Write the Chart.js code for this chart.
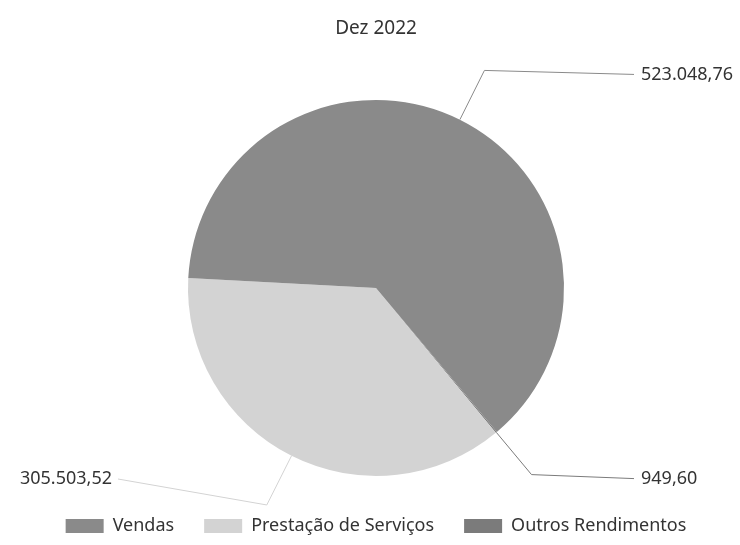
<!DOCTYPE html>
<html lang="pt">
<head>
    <meta charset="UTF-8">
    <title>Dez 2022</title>
    <script src="https://cdn.jsdelivr.net/npm/chart.js"></script>
    <style>
      body { margin: 0; background: #fff; }
      .grafico { width: 740px; height: 545px; }
    </style>
</head>
<body>

  <div class="grafico">
    <canvas id="canvas_receita"></canvas>
  </div>

<script>
    // dados
    var titulo = 'Dez 2022';
    var lista_categorias = ['Vendas', 'Prestação de Serviços', 'Outros Rendimentos'];
    var lista_valores = [523048.76, 305503.52, 949.60];
    var lista_rotulos = ['523.048,76', '305.503,52', '949,60'];
    var lista_cores = ['#8a8a8a', '#d3d3d3', '#7b7b7b'];

    // a pizza original corre no sentido anti-horario, entao invertemos a ordem
    var labels_graf = lista_categorias.slice().reverse();
    var valores_graf = lista_valores.slice().reverse();
    var rotulos_graf = lista_rotulos.slice().reverse();
    var cores_graf = lista_cores.slice().reverse();

    var fonte = "'Noto Sans', 'Open Sans', sans-serif";

    // rotulos com linha de chamada
    var rotulosPlugin = {
      id: 'rotulos',
      afterDatasetsDraw: function (chart) {
        var ctx = chart.ctx;
        var meta = chart.getDatasetMeta(0);
        var limite = chart.legend.top - 8;
        ctx.save();
        ctx.font = '18px ' + fonte;
        ctx.textBaseline = 'middle';
        for (var i = 0; i < meta.data.length; i++) {
          var arco = meta.data[i];
          var p = arco.getProps(['x', 'y', 'startAngle', 'endAngle', 'outerRadius'], true);
          var meio = (p.startAngle + p.endAngle) / 2;
          var cos = Math.cos(meio), sin = Math.sin(meio);
          var x0 = p.x + cos * p.outerRadius;
          var y0 = p.y + sin * p.outerRadius;
          var x1 = p.x + cos * (p.outerRadius + 55);
          var y1 = p.y + sin * (p.outerRadius + 55);
          var direita = cos >= 0;
          var x2 = direita ? 634 : 118;
          var yTexto = Math.min(y1 + 4, limite);

          ctx.strokeStyle = cores_graf[i];
          ctx.lineWidth = 1;
          ctx.beginPath();
          ctx.moveTo(x0, y0);
          ctx.lineTo(x1, y1);
          ctx.lineTo(x2, yTexto);
          ctx.stroke();

          ctx.fillStyle = '#333';
          ctx.textAlign = direita ? 'left' : 'right';
          ctx.fillText(rotulos_graf[i], direita ? x2 + 7 : x2 - 6, yTexto);
        }
        ctx.restore();
      }
    };

    var grafico = new Chart(document.getElementById('canvas_receita'), {
      type: 'pie',
      data: {
        labels: labels_graf,
        datasets: [{
          data: valores_graf,
          backgroundColor: cores_graf,
          borderWidth: 0,
          radius: 188
        }]
      },
      options: {
        responsive: true,
        maintainAspectRatio: false,
        animation: false,
        rotation: 140,
        layout: {
          padding: { top: 0, bottom: 0, left: 12, right: 0 }
        },
        plugins: {
          title: {
            display: true,
            text: titulo,
            color: '#333',
            font: { family: fonte, size: 19, weight: 'normal' },
            padding: { top: 17, bottom: 49 }
          },
          legend: {
            position: 'bottom',
            reverse: true,
            labels: {
              color: '#333',
              boxWidth: 38,
              boxHeight: 14,
              padding: 30,
              font: { family: fonte, size: 18 }
            }
          },
          tooltip: { enabled: false }
        }
      },
      plugins: [rotulosPlugin]
    });
</script>
</body>
</html>
